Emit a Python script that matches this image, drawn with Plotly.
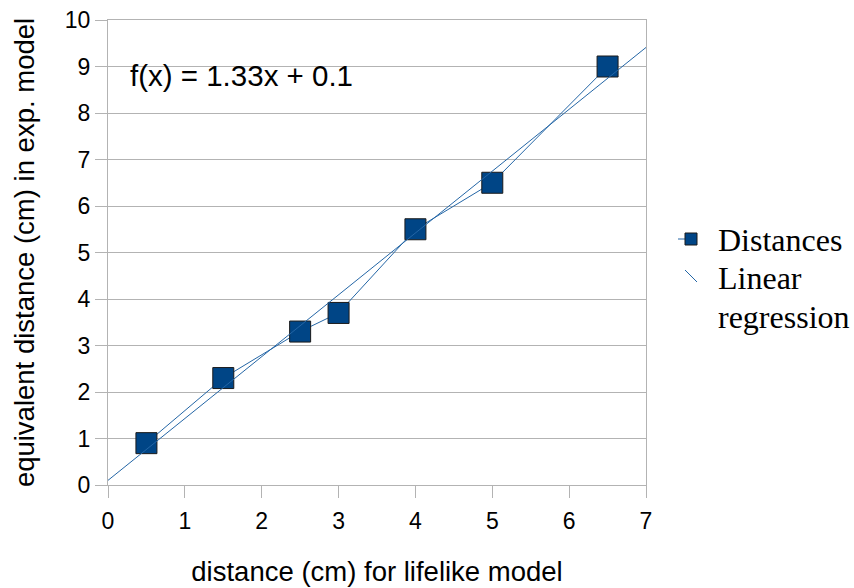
import plotly.graph_objects as go

# Measured distances
lifelike_cm = [0.5, 1.5, 2.5, 3.0, 4.0, 5.0, 6.5]
exp_model_cm = [0.9, 2.3, 3.3, 3.7, 5.5, 6.5, 9.0]

# Fitted regression f(x) = slope*x + intercept
slope = 1.33
intercept = 0.1
fit_x = [0, 7]
fit_y = [slope * x + intercept for x in fit_x]

x_ticks = [0, 1, 2, 3, 4, 5, 6, 7]
y_ticks = list(range(0, 11))

legend_labels = ["Distances", "Linear", "regression"]

W, H = 854, 588
M_L, M_R, M_T, M_B = 108, 208, 20, 103
grid = "#b3b3b3"
series_blue = "#2466a6"
marker_blue = "#004586"
sans = "Liberation Sans, Arial, sans-serif"
serif = "Liberation Serif, Times New Roman, serif"


def px_x(p):
    """Pixel column -> paper x."""
    return (p - M_L) / (W - M_L - M_R)


def px_y(p):
    """Pixel row -> paper y."""
    return (H - M_B - p) / (H - M_T - M_B)


fig = go.Figure()
fig.add_trace(go.Scatter(
    x=lifelike_cm, y=exp_model_cm, mode="lines+markers", name="Distances",
    line=dict(color=series_blue, width=1),
    marker=dict(symbol="square", size=21, color=marker_blue,
                line=dict(color="#1a1a1a", width=1)),
    showlegend=False,
))
fig.add_trace(go.Scatter(
    x=fit_x, y=fit_y, mode="lines", name="Linear regression",
    line=dict(color=series_blue, width=1),
    showlegend=False,
))

fig.add_annotation(
    x=0.26, y=8.8, xref="x", yref="y", xanchor="left", yanchor="middle",
    text=f"f(x) = {slope}x + {intercept}", showarrow=False,
    font=dict(family=sans, size=29.5, color="black"),
)

# Legend drawn by hand: square key with lead-in line, diagonal key for the fit
fig.add_shape(type="line", xref="paper", yref="paper",
              x0=px_x(678), x1=px_x(686), y0=px_y(239), y1=px_y(239),
              line=dict(color=series_blue, width=1))
fig.add_shape(type="rect", xref="paper", yref="paper",
              x0=px_x(685), x1=px_x(697), y0=px_y(245), y1=px_y(233),
              fillcolor=marker_blue, line=dict(color="#1a1a1a", width=1))
fig.add_shape(type="line", xref="paper", yref="paper",
              x0=px_x(685), x1=px_x(697), y0=px_y(270), y1=px_y(282),
              line=dict(color=series_blue, width=1))
for label, row in zip(legend_labels, [240, 278, 317]):
    fig.add_annotation(x=px_x(716), y=px_y(row), xref="paper", yref="paper",
                       xanchor="left", yanchor="middle", showarrow=False,
                       text=label, font=dict(family=serif, size=32, color="black"))

axis_common = dict(
    showline=True, linecolor=grid, linewidth=1, mirror=True,
    ticks="outside", ticklen=12, tickcolor=grid, tickwidth=1,
    zeroline=False, automargin=False,
    tickfont=dict(family=sans, size=23, color="black"),
    title_font=dict(family=sans, size=27.5, color="black"),
)

fig.update_xaxes(range=[0, 7], tickvals=x_ticks, showgrid=False,
                 ticklabelstandoff=3,
                 title_text="distance (cm) for lifelike model", title_standoff=29,
                 **axis_common)
fig.update_yaxes(range=[0, 10], tickvals=y_ticks, showgrid=True,
                 gridcolor=grid, gridwidth=1,
                 title_text="equivalent distance (cm) in exp. model", title_standoff=22,
                 **axis_common)

fig.update_layout(
    width=W, height=H,
    margin=dict(l=M_L, r=M_R, t=M_T, b=M_B),
    paper_bgcolor="white", plot_bgcolor="white",
    showlegend=False,
)

fig.write_html("out.html")
